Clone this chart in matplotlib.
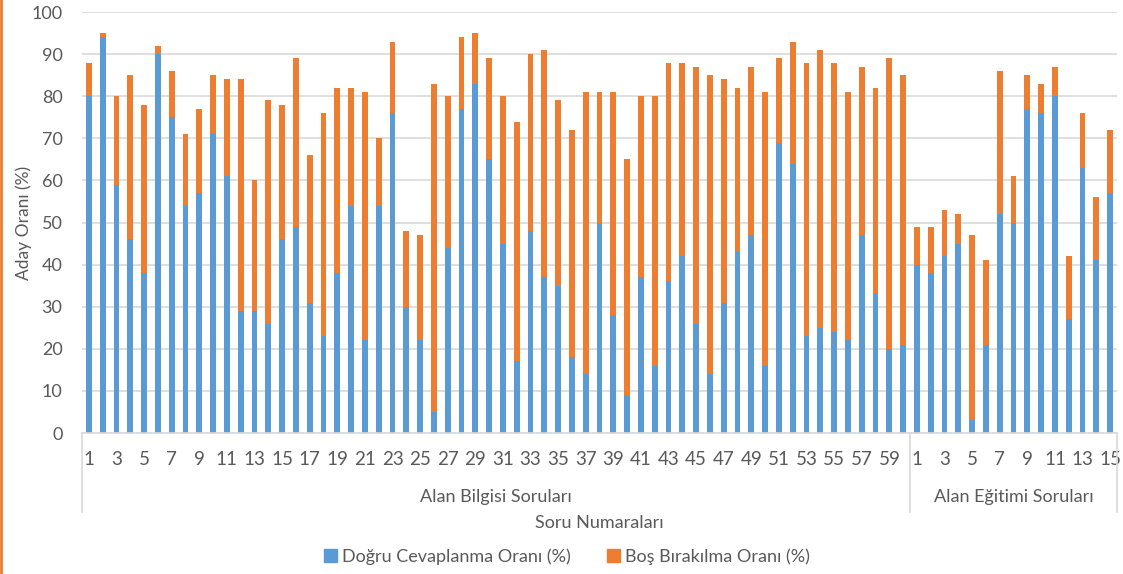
import matplotlib

matplotlib.use("Agg")
import matplotlib.pyplot as plt
from matplotlib.lines import Line2D
from matplotlib.patches import Patch
import numpy as np

# Alan Bilgisi Soruları (60) + Alan Eğitimi Soruları (15)
bilgisi_dogru = [80, 94, 59, 46, 38, 90, 75, 54, 57, 71, 61, 29, 29, 26, 46, 49, 31, 23, 38, 54,
                 22, 54, 76, 30, 22, 5, 44, 77, 83, 65, 45, 17, 48, 37, 35, 18, 14, 50, 28, 9,
                 37, 16, 36, 42, 26, 14, 31, 43, 47, 16, 69, 64, 23, 25, 24, 22, 47, 33, 20, 21]
bilgisi_toplam = [88, 95, 80, 85, 78, 92, 86, 71, 77, 85, 84, 84, 60, 79, 78, 89, 66, 76, 82, 82,
                  81, 70, 93, 48, 47, 83, 80, 94, 95, 89, 80, 74, 90, 91, 79, 72, 81, 81, 81, 65,
                  80, 80, 88, 88, 87, 85, 84, 82, 87, 81, 89, 93, 88, 91, 88, 81, 87, 82, 89, 85]
egitimi_dogru = [40, 38, 42, 45, 3, 21, 52, 50, 77, 76, 80, 27, 63, 41, 57]
egitimi_toplam = [49, 49, 53, 52, 47, 41, 86, 61, 85, 83, 87, 42, 76, 56, 72]

groups = ["Alan Bilgisi Soruları", "Alan Eğitimi Soruları"]
series = ["Doğru Cevaplanma Oranı (%)", "Boş Bırakılma Oranı (%)"]

BLUE = "#5B9BD5"
ORANGE = "#ED7D31"
GRID = "#D9D9D9"
TEXT = "#595959"

plt.rcParams["font.family"] = ["Lato", "DejaVu Sans"]

dogru = np.array(bilgisi_dogru + egitimi_dogru)
bos = np.array(bilgisi_toplam + egitimi_toplam) - dogru
labels = [str(i) for i in range(1, len(bilgisi_dogru) + 1)] + \
         [str(i) for i in range(1, len(egitimi_dogru) + 1)]
x = np.arange(len(dogru))
n1 = len(bilgisi_dogru)

fig = plt.figure(figsize=(11.23, 5.74), dpi=100)
ax = fig.add_axes([0.073, 0.2456, 0.9217, 0.7334])

ax.bar(x, dogru, width=0.42, color=BLUE, zorder=2)
ax.bar(x, bos, width=0.42, bottom=dogru, color=ORANGE, zorder=2)

ax.set_xlim(-0.5, len(x) - 0.5)
ax.set_ylim(0, 100)
ax.set_yticks(np.arange(0, 101, 10))
ax.yaxis.grid(True, color=GRID, linewidth=1.2, zorder=0)
ax.set_axisbelow(True)
for side in ["left", "right", "top"]:
    ax.spines[side].set_visible(False)
ax.spines["bottom"].set_color(GRID)
ax.spines["bottom"].set_linewidth(1.2)

shown = [i for i in x if int(labels[i]) % 2 == 1]
ax.set_xticks(shown)
ax.set_xticklabels([labels[i] for i in shown])
ax.tick_params(axis="x", length=0, pad=13, labelsize=13.5, labelcolor=TEXT)
ax.tick_params(axis="y", length=0, pad=14, labelsize=13, labelcolor=TEXT)

ax.set_ylabel("Aday Oranı (%)", fontsize=12.5, color=TEXT)
ax.yaxis.set_label_coords(-0.048, 0.5)

# category group brackets
trans = ax.get_xaxis_transform()
for xb in [-0.5, n1 - 0.5, len(x) - 0.5]:
    ax.plot([xb, xb], [0, -0.188], color=GRID, lw=1.2, transform=trans, clip_on=False)
ax.text((n1 - 1) / 2, -0.152, groups[0], transform=trans, ha="center", va="center",
        fontsize=13, color=TEXT)
ax.text((n1 + len(x) - 1) / 2, -0.152, groups[1], transform=trans, ha="center", va="center",
        fontsize=13, color=TEXT)

fig.text(0.534, 0.089, "Soru Numaraları", ha="center", va="center", fontsize=13, color=TEXT)

handles = [Patch(color=BLUE), Patch(color=ORANGE)]
fig.legend(handles, series, loc="center", bbox_to_anchor=(0.505, 0.03), ncol=2,
           frameon=False, fontsize=13, labelcolor=TEXT, handlelength=0.7,
           handleheight=0.7, handletextpad=0.3, columnspacing=2.0)

# orange border strip on the left edge of the image
fig.add_artist(Line2D([0.001, 0.001], [0, 1], color=ORANGE, lw=2, transform=fig.transFigure))

fig.savefig("out.png", dpi=100)
